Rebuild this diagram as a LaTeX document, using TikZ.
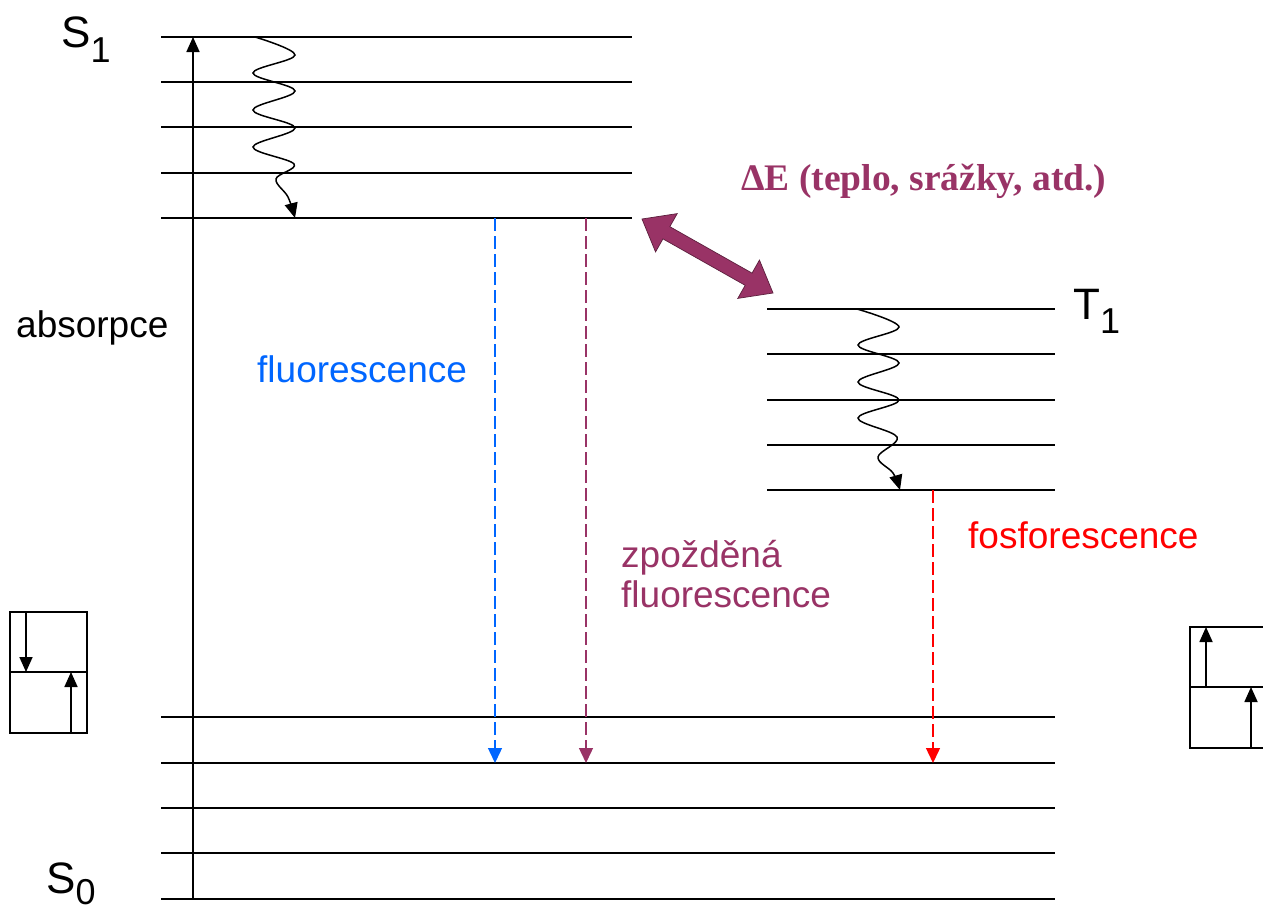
\documentclass[tikz,border=0pt]{standalone}
\usepackage{fontspec}
\setmainfont{Liberation Sans}
\newfontfamily\timesfam{Liberation Serif}
\usetikzlibrary{arrows.meta}
\definecolor{fblue}{RGB}{0,102,255}
\definecolor{fpurp}{RGB}{153,51,102}
\definecolor{fred}{RGB}{255,0,0}
\begin{document}
\begin{tikzpicture}[x=1pt,y=-1pt,
  level/.style={line width=1.7pt},
  bigtip/.style={-{Triangle[length=15pt,width=13pt]}},
  solidarrow/.style={line width=1.7pt,bigtip},
  wavy/.style={line width=1.5pt,bigtip},
  dasharrow/.style={line width=1.4pt,dash pattern=on 13pt off 5pt,-{Triangle[length=15pt,width=14pt]}},
  lab/.style={font=\fontsize{37}{40}\selectfont,inner sep=0pt,anchor=base west},
  statelab/.style={font=\fontsize{44}{44}\selectfont,inner sep=0pt,anchor=base west},
  box/.style={line width=1.7pt}]
\clip (0,0) rectangle (1263,910);
\fill[white] (0,0) rectangle (1263,910);

% S1 levels
\foreach \y in {37,82,127,173,218} \draw[level] (161,\y) -- (632,\y);
% T1 levels
\foreach \y in {309,354,400,445,490} \draw[level] (767,\y) -- (1055,\y);
% S0 levels
\foreach \y in {717,763,808,853,899} \draw[level] (161,\y) -- (1055,\y);

% coordinates
\coordinate (absB) at (193,899);
\coordinate (absT) at (193,37);
\coordinate (flA) at (495,218);
\coordinate (flB) at (495,763);
\coordinate (dfA) at (586,218);
\coordinate (dfB) at (586,763);
\coordinate (phA) at (933,490);
\coordinate (phB) at (933,763);

% absorption
\draw[solidarrow] (absB) -- (absT);

% vibrational relaxation S1
\draw[wavy] plot[smooth,tension=0.6] coordinates {(255,37) (295,55) (253,73) (295,91) (253,110) (295,128) (253,147) (294,164) (276,179) (288,197) (295,218)};
% vibrational relaxation T1
\draw[wavy] plot[smooth,tension=0.6] coordinates {(857,309) (899,327) (858,345) (899,363) (858,382) (899,400) (858,418) (897,437) (878,457) (893,473) (900,490)};

% emissions
\draw[dasharrow,fblue] (flA) -- (flB);
\draw[dasharrow,fpurp] (dfA) -- (dfB);
\draw[dasharrow,fred] (phA) -- (phB);

% double block arrow (Delta E)
\filldraw[fill=fpurp,draw=black!40!fpurp,line width=0.7pt]
  (642,219) -- (677.2,213.61) -- (669.82,226.68) -- (752.06,273.14) -- (759.44,260.07)
  -- (773,293) -- (737.80,298.39) -- (745.18,285.32) -- (662.94,238.86) -- (655.56,251.93) -- cycle;

% labels
\node[statelab] (S1lab) at (61,47) {S\raisebox{-15pt}{\fontsize{36}{36}\selectfont 1}};
\node[statelab] (S0lab) at (46,893) {S\raisebox{-11pt}{\fontsize{36}{36}\selectfont 0}};
\node[statelab] (T1lab) at (1073,319) {T\raisebox{-14pt}{\fontsize{36}{36}\selectfont 1}};
\node[lab] (abs) at (16,337) {absorpce};
\node[lab,text=fblue] (fl) at (257,382) {fluorescence};
\node[lab,text=fpurp] (dfl) at (621,567) {zpožděná};
\node[lab,text=fpurp] (dfl2) at (621,607) {fluorescence};
\node[lab,text=fred] (ph) at (968,548) {fosforescence};
\node[inner sep=0pt,anchor=base west,text=fpurp,font=\timesfam\bfseries\fontsize{37.5}{40}\selectfont] (dE) at (741,190) {ΔE (teplo, srážky, atd.)};

% spin boxes
\draw[box] (10,612) rectangle (87,733);
\draw[box] (10,672) -- (87,672);
\coordinate (lbA) at (26,612);
\coordinate (lbB) at (26,672);
\coordinate (lbC) at (71,733);
\coordinate (lbD) at (71,672);
\draw[solidarrow] (lbA) -- (lbB);
\draw[solidarrow] (lbC) -- (lbD);

\draw[box] (1190,627) rectangle (1275,748);
\draw[box] (1190,687) -- (1275,687);
\coordinate (rbA) at (1206,687);
\coordinate (rbB) at (1206,627);
\coordinate (rbC) at (1251,748);
\coordinate (rbD) at (1251,687);
\draw[solidarrow] (rbA) -- (rbB);
\draw[solidarrow] (rbC) -- (rbD);
\end{tikzpicture}
\end{document}
